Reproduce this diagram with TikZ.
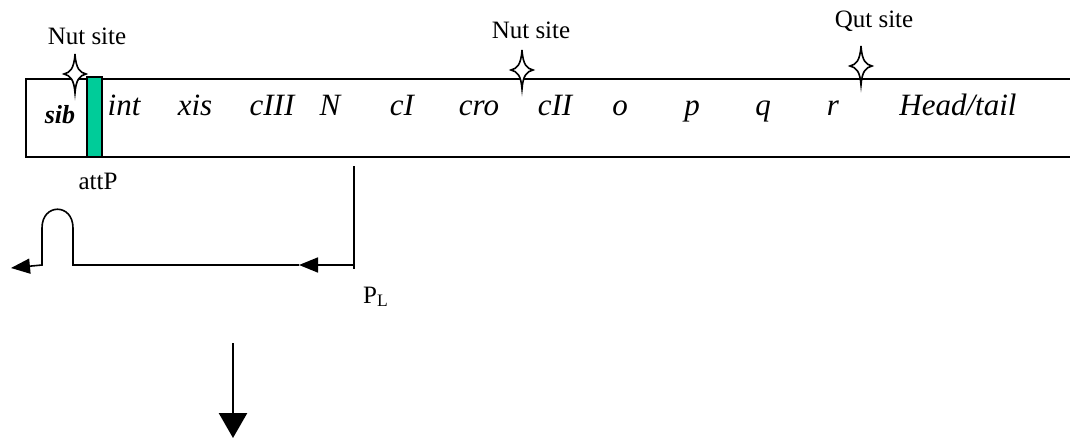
\documentclass[tikz,border=0pt]{standalone}
\usepackage{fontspec}
\setmainfont{Liberation Serif}
\usetikzlibrary{positioning,arrows.meta}
\definecolor{attgreen}{RGB}{0,204,153}

\tikzset{
  gene/.style={font=\fontsize{31}{31}\selectfont\itshape, anchor=base, inner sep=0pt},
  site/.style={font=\fontsize{25}{25}\selectfont, anchor=base, inner sep=0pt},
  leftarrow/.style={-{Triangle[length=19pt,width=15pt]}},
  downarrow/.style={-{Triangle[length=25pt,width=28pt]}, line width=2.6pt},
}
% four pointed star marking a site
\newcommand{\sitestar}[2]{%
  \draw[fill=white, line width=1.6pt, shift={(#1,#2)}]
    (0,-20) .. controls (1,-5) and (5,-1.5) .. (11,0)
    .. controls (5,1.5) and (1,5) .. (0,19)
    .. controls (-1,5) and (-5,1.5) .. (-11,0)
    .. controls (-5,-1.5) and (-1,-5) .. cycle;}

\begin{document}
\begin{tikzpicture}[x=1pt, y=-1pt]
    \useasboundingbox (0,0) rectangle (1070,441);

    % genome bar
    \draw[line width=2.2pt] (1072,79) -- (26,79) -- (26,157) -- (1072,157);
    \node[draw, line width=1.4pt, fill=attgreen, minimum width=15pt, minimum height=80pt, inner sep=0pt] (att) at (94.5,117) {};
    \node[site] (attlab) at (98,189) {attP};

    % sites
    \sitestar{75}{74}
    \sitestar{522}{70}
    \sitestar{861}{66}
    \node[site] (nut1) at (87,45) {Nut site};
    \node[site] (nut2) at (531,39) {Nut site};
    \node[site] (qut) at (874,28) {Qut site};

    % genes
    \node[gene, font=\fontsize{26}{26}\selectfont\bfseries\itshape] (sib) at (60,124) {sib};
    \node[gene] (int) at (124,116) {int};
    \node[gene] (xis) at (195,116) {xis};
    \node[gene] (cIII) at (272,116) {cIII};
    \node[gene] (N) at (330,116) {N};
    \node[gene] (cI) at (402,116) {cI};
    \node[gene] (cro) at (479,116) {cro};
    \node[gene] (cII) at (555,116) {cII};
    \node[gene] (o) at (620,116) {o};
    \node[gene] (p) at (692,116) {p};
    \node[gene] (q) at (763,116) {q};
    \node[gene] (r) at (833,116) {r};
    \node[gene] (head) at (958,116) {Head/tail};

    % P_L transcript
    \coordinate (plt) at (354,166);
    \coordinate (plb) at (354,269);
    \coordinate (plc) at (354,265);
    \coordinate (mid) at (299,265);
    \coordinate (lr) at (73,265);
    \coordinate (lrt) at (73,228);
    \coordinate (llt) at (42,228);
    \coordinate (ll) at (42,265);
    \coordinate (tip) at (11,268);
    \draw[line width=1.6pt] (plt) -- (plb);
    \draw[line width=1.6pt, leftarrow] (plc) -- (mid);
    \draw[line width=1.6pt, leftarrow] (mid) -- (lr) -- (lrt)
      .. controls (73,203) and (42,203) .. (llt) -- (ll) -- (tip);
    \node[site, anchor=base west] (pl) at (363,303) {P\textsubscript{L}};

    % downward arrow
    \coordinate (dtop) at (233,343);
    \coordinate (dtip) at (233,438);
    \draw[downarrow] (dtop) -- (dtip);
\end{tikzpicture}
\end{document}
